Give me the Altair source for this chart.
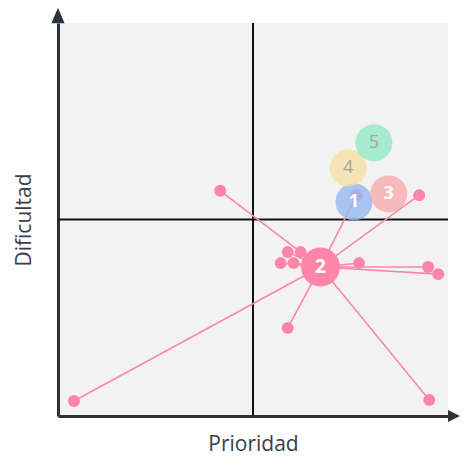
import altair as alt
import pandas as pd

# Hub node (2)
hub_x = 67.3
hub_y = 37.9

# Small connected points
pt_x = [41.6, 4.1, 95.2, 58.9, 92.6, 76.6, 77.2, 94.9, 97.5, 58.9, 62.2, 57.1, 60.4]
pt_y = [57.3, 3.8, 4.1, 22.4, 56.2, 56.2, 38.9, 37.9, 36.1, 41.7, 41.7, 38.9, 38.9]

# Labelled bubbles
node_lbl = ["1", "3", "4", "5"]
node_x = [75.9, 84.8, 74.4, 81.0]
node_y = [54.5, 56.5, 63.1, 69.5]
node_col = ["#96b6f3", "#f8abab", "#f6dea3", "#93e8c6"]
node_txt = ["#ffffff", "#ffffff", "#a3a3a3", "#a3a3a3"]
node_bold = [True, True, False, False]

PINK = "#ff86aa"
DARK = "#2c323e"
FONT = "Open Sans"

pts = pd.DataFrame({"x": pt_x, "y": pt_y, "hx": [hub_x] * len(pt_x), "hy": [hub_y] * len(pt_y)})
nodes = pd.DataFrame({"x": node_x, "y": node_y, "lbl": node_lbl, "col": node_col, "tc": node_txt, "b": node_bold})
hub = pd.DataFrame({"x": [hub_x], "y": [hub_y], "lbl": ["2"]})
mid = pd.DataFrame({"v": [50]})
arrows = pd.DataFrame({"x": [0, 100], "y": [100, 0]})

xs = alt.Scale(domain=[0, 100], nice=False, zero=False)
ys = alt.Scale(domain=[0, 100], nice=False, zero=False)

X = alt.X("x:Q", scale=xs, title="Prioridad",
          axis=alt.Axis(ticks=False, labels=False, grid=False, domainColor=DARK, domainWidth=3,
                        titleFont=FONT, titleFontSize=21, titleFontWeight="normal",
                        titleColor="#3a3f4a", titlePadding=17))
Y = alt.Y("y:Q", scale=ys, title="Dificultad",
          axis=alt.Axis(ticks=False, labels=False, grid=False, domainColor=DARK, domainWidth=3,
                        titleFont=FONT, titleFontSize=21, titleFontWeight="normal",
                        titleColor="#3a3f4a", titlePadding=24))

vline = alt.Chart(mid).mark_rule(color="#111111", strokeWidth=2).encode(x=alt.X("v:Q", scale=xs))
hline = alt.Chart(mid).mark_rule(color="#111111", strokeWidth=2).encode(y=alt.Y("v:Q", scale=ys))

links = alt.Chart(pts).mark_rule(color=PINK, strokeWidth=1.6).encode(
    x=X, y=Y, x2="hx:Q", y2="hy:Q")

dots = alt.Chart(pts).mark_circle(color=PINK, opacity=1, size=144).encode(x=X, y=Y)

bubbles = alt.Chart(nodes).mark_circle(opacity=0.8, size=1369).encode(
    x=X, y=Y, color=alt.Color("col:N", scale=None))
txt_bold = alt.Chart(nodes[nodes["b"]]).mark_text(font=FONT, fontSize=18, fontWeight="bold", baseline="middle").encode(
    x=X, y=Y, text="lbl:N", color=alt.Color("tc:N", scale=None))
txt_norm = alt.Chart(nodes[~nodes["b"]]).mark_text(font=FONT, fontSize=18, baseline="middle").encode(
    x=X, y=Y, text="lbl:N", color=alt.Color("tc:N", scale=None))

hub_c = alt.Chart(hub).mark_circle(color=PINK, opacity=1, size=1521).encode(x=X, y=Y)
hub_t = alt.Chart(hub).mark_text(font=FONT, fontSize=19, fontWeight="bold", color="white", baseline="middle").encode(
    x=X, y=Y, text="lbl:N")

up = alt.Chart(arrows.iloc[[0]]).mark_point(
    shape="M-0.85,1L0,-1L0.85,1Z", size=240, filled=True, color=DARK, opacity=1, yOffset=-7.5
).encode(x=X, y=Y)
right = alt.Chart(arrows.iloc[[1]]).mark_point(
    shape="M-1,-1L1,0L-1,1Z", size=144, filled=True, color=DARK, opacity=1, xOffset=6
).encode(x=X, y=Y)

chart = alt.layer(vline, hline, links, dots, bubbles, txt_bold, txt_norm, hub_c, hub_t, up, right).properties(
    width=390, height=393,
    autosize=alt.AutoSizeParams(type="none"),
    padding={"left": 50, "top": 15, "right": 12, "bottom": 40},
).configure_view(fill="#f2f2f2", stroke=None)

chart.save("out.html", embed_options={"renderer": "svg", "actions": False})
